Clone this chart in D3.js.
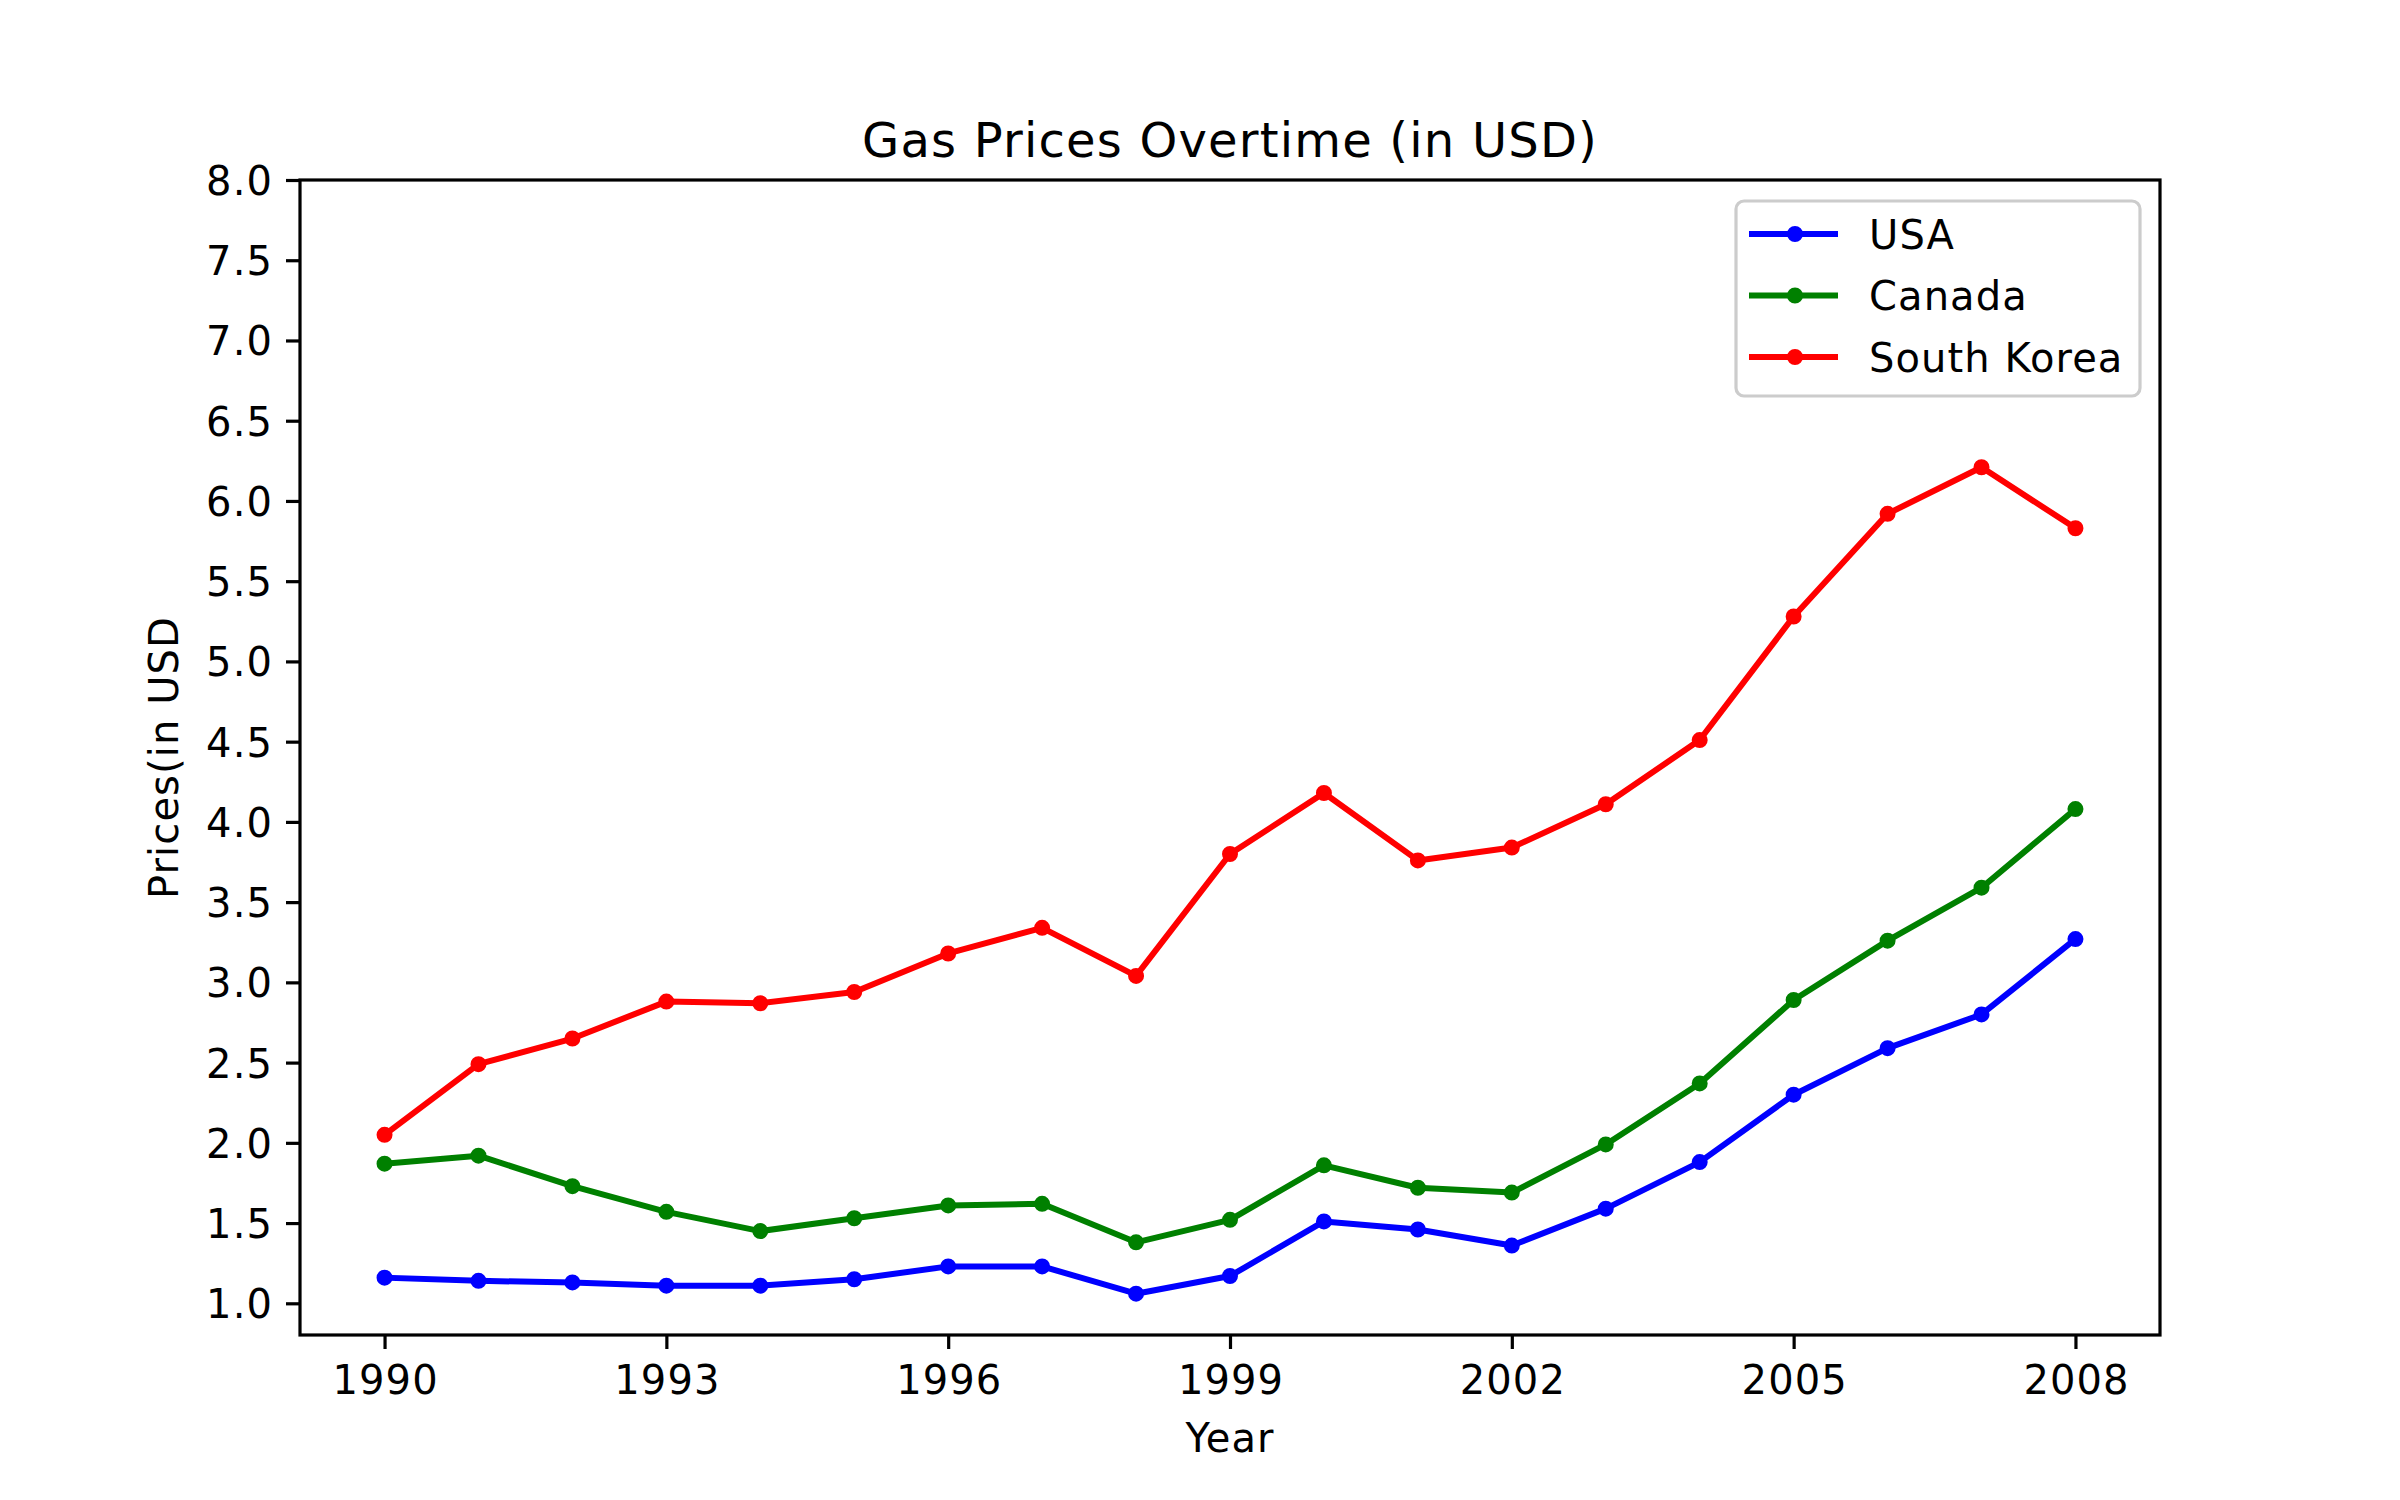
<!DOCTYPE html>
<html>
<head>
<meta charset="utf-8">
<script src="https://cdn.jsdelivr.net/npm/d3@7"></script>
<style>
  html, body { margin: 0; padding: 0; background: #ffffff; }
  svg { display: block; font-family: "DejaVu Sans", sans-serif; }
</style>
</head>
<body>
<svg id="chart" width="2400" height="1500"></svg>
<script>
// ---- data ----
const years = [1990, 1991, 1992, 1993, 1994, 1995, 1996, 1997, 1998, 1999,
               2000, 2001, 2002, 2003, 2004, 2005, 2006, 2007, 2008];
const usa = [1.16, 1.14, 1.13, 1.11, 1.11, 1.15, 1.23, 1.23, 1.06, 1.17,
             1.51, 1.46, 1.36, 1.59, 1.88, 2.30, 2.59, 2.80, 3.27];
const canada = [1.87, 1.92, 1.73, 1.57, 1.45, 1.53, 1.61, 1.62, 1.38, 1.52,
                1.86, 1.72, 1.69, 1.99, 2.37, 2.89, 3.26, 3.59, 4.08];
const southKorea = [2.05, 2.49, 2.65, 2.88, 2.87, 2.94, 3.18, 3.34, 3.04, 3.80,
                    4.18, 3.76, 3.84, 4.11, 4.51, 5.28, 5.92, 6.21, 5.83];
const seriesNames = ["USA", "Canada", "South Korea"];
const seriesColors = ["#0000ff", "#008000", "#ff0000"];
const xTickValues = [1990, 1993, 1996, 1999, 2002, 2005, 2008];
const yTickValues = [1.0, 1.5, 2.0, 2.5, 3.0, 3.5, 4.0, 4.5, 5.0, 5.5, 6.0, 6.5, 7.0, 7.5, 8.0];
const titleText = "Gas Prices Overtime (in USD)";
const xLabelText = "Year";
const yLabelText = "Prices(in USD";

const seriesValues = [usa, canada, southKorea];

// ---- layout ----
const L = 300, R = 2160, T = 180, B = 1335;
const LS = "1.1px";
const svg = d3.select("#chart");
svg.append("rect").attr("x", 0).attr("y", 0).attr("width", 2400).attr("height", 1500).attr("fill", "#ffffff");

const allVals = seriesValues.flat();
const vmin = d3.min(allVals), vmax = d3.max(allVals);
const yLow = vmin - (vmax - vmin) * 0.05;
const xSpan = d3.max(years) - d3.min(years);
const x = d3.scaleLinear()
  .domain([d3.min(years) - xSpan * 0.05, d3.max(years) + xSpan * 0.05])
  .range([L, R]);
const y = d3.scaleLinear()
  .domain([yLow, d3.max(yTickValues)])
  .range([B, T]);

// ---- axes ----
const xAxis = d3.axisBottom(x).tickValues(xTickValues).tickFormat(d3.format("d"))
  .tickSize(14).tickPadding(17);
const gx = svg.append("g").attr("transform", `translate(0,${B})`).call(xAxis);
gx.select(".domain").remove();
gx.selectAll(".tick line").attr("stroke", "#000").attr("stroke-width", 3.2);
gx.selectAll(".tick text").attr("font-size", 40).attr("fill", "#000")
  .attr("letter-spacing", LS).attr("dx", "0.55px")
  .attr("font-family", "DejaVu Sans, sans-serif");

const yAxis = d3.axisLeft(y).tickValues(yTickValues).tickFormat(d3.format(".1f"))
  .tickSize(14).tickPadding(13);
const gy = svg.append("g").attr("transform", `translate(${L},0)`).call(yAxis);
gy.select(".domain").remove();
gy.selectAll(".tick line").attr("stroke", "#000").attr("stroke-width", 3.2);
gy.selectAll(".tick text").attr("font-size", 40).attr("fill", "#000").attr("dy", "0.36em")
  .attr("letter-spacing", LS)
  .attr("font-family", "DejaVu Sans, sans-serif");

// ---- lines ----
const line = d3.line().x((d, i) => x(years[i])).y(d => y(d));
seriesValues.forEach((vals, si) => {
  const g = svg.append("g");
  g.append("path").datum(vals)
    .attr("d", line)
    .attr("fill", "none")
    .attr("stroke", seriesColors[si])
    .attr("stroke-width", 6)
    .attr("stroke-linejoin", "round")
    .attr("stroke-linecap", "square");
  g.selectAll("circle").data(vals).join("circle")
    .attr("cx", (d, i) => x(years[i]))
    .attr("cy", d => y(d))
    .attr("r", 6)
    .attr("fill", seriesColors[si])
    .attr("stroke", seriesColors[si])
    .attr("stroke-width", 4);
});

// ---- spines ----
svg.append("rect").attr("x", L).attr("y", T).attr("width", R - L).attr("height", B - T)
  .attr("fill", "none").attr("stroke", "#000").attr("stroke-width", 3.2);

// ---- legend ----
const lg = svg.append("g");
lg.append("rect").attr("x", 1736).attr("y", 201).attr("width", 404).attr("height", 195)
  .attr("rx", 8).attr("ry", 8)
  .attr("fill", "#ffffff").attr("fill-opacity", 0.8)
  .attr("stroke", "#cccccc").attr("stroke-width", 3.2);
seriesNames.forEach((name, i) => {
  const cy = 234 + i * 61.5;
  lg.append("line").attr("x1", 1752).attr("x2", 1835).attr("y1", cy).attr("y2", cy)
    .attr("stroke", seriesColors[i]).attr("stroke-width", 6).attr("stroke-linecap", "square");
  lg.append("circle").attr("cx", 1795).attr("cy", cy).attr("r", 6)
    .attr("fill", seriesColors[i]).attr("stroke", seriesColors[i]).attr("stroke-width", 4);
  lg.append("text").attr("x", 1869).attr("y", cy + 14.5)
    .attr("font-size", 40).attr("fill", "#000").attr("letter-spacing", LS).text(name);
});

// ---- title & labels ----
svg.append("text").attr("x", (L + R) / 2).attr("y", 156.5)
  .attr("text-anchor", "middle").attr("font-size", 48).attr("fill", "#000")
  .attr("letter-spacing", "1.2px").text(titleText);
svg.append("text").attr("x", (L + R) / 2).attr("y", 1452)
  .attr("text-anchor", "middle").attr("font-size", 40).attr("fill", "#000")
  .attr("letter-spacing", LS).text(xLabelText);
svg.append("text")
  .attr("transform", `translate(178,${(T + B) / 2}) rotate(-90)`)
  .attr("text-anchor", "middle").attr("font-size", 40).attr("fill", "#000")
  .attr("letter-spacing", LS).text(yLabelText);
</script>
</body>
</html>
